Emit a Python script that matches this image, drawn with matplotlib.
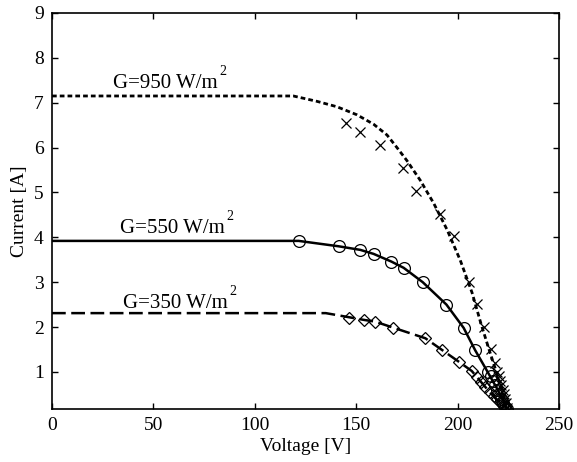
import matplotlib
matplotlib.use("Agg")
import matplotlib.pyplot as plt

plt.rcParams['font.family'] = ['Liberation Serif', 'DejaVu Serif']

# Model I-V curves at three irradiance levels
v_950 = [0, 119, 130.7, 140.5, 150.4, 158.6, 165.2, 170.1, 175, 181.6, 188.2,
         194.8, 201.3, 207.1, 211.5, 215.5, 219.4, 222.2, 224.5]
i_950 = [7.15, 7.15, 7.03, 6.91, 6.73, 6.52, 6.28, 6.00, 5.71, 5.27, 4.76,
         4.17, 3.49, 2.77, 2.08, 1.50, 0.96, 0.55, 0.18]

v_550 = [0, 121.6, 141.3, 152.0, 158.6, 167.3, 173.4, 182.8, 194.5, 203.0,
         208.7, 214.8, 219.8, 224.5]
i_550 = [3.92, 3.92, 3.80, 3.72, 3.63, 3.46, 3.32, 3.00, 2.50, 1.98,
         1.48, 1.00, 0.60, 0.18]

v_350 = [0, 135, 146.3, 153.7, 159.4, 168.0, 184.1, 192.3, 200.5, 207.0,
         211.5, 215.8, 220.0, 224.5]
i_350 = [2.31, 2.31, 2.22, 2.16, 2.12, 1.99, 1.75, 1.49, 1.23, 1.02,
         0.78, 0.55, 0.35, 0.18]

# Measured points
mv_950 = [145.1, 152.0, 161.9, 173.1, 179.6, 191.1, 198.0, 205.4, 209.6, 213.2,
          216.5, 218.5, 219.5, 220.3, 221.0, 221.6, 222.2, 222.8, 223.3, 223.8, 224.3]
mi_950 = [6.55, 6.35, 6.06, 5.54, 5.04, 4.53, 4.03, 3.01, 2.51, 1.99,
          1.50, 1.20, 1.00, 0.90, 0.80, 0.70, 0.60, 0.50, 0.40, 0.30, 0.20]

mv_550 = [121.6, 141.3, 152.0, 158.6, 167.3, 173.4, 182.8, 194.5, 203.0, 208.7,
          214.8, 216.5, 217.6, 218.6, 219.6, 220.6, 221.6, 222.6, 223.6, 224.5]
mi_550 = [3.92, 3.80, 3.72, 3.63, 3.46, 3.32, 3.00, 2.50, 1.98, 1.48,
          1.00, 0.90, 0.80, 0.70, 0.60, 0.50, 0.40, 0.30, 0.22, 0.18]

mv_350 = [146.3, 153.7, 159.4, 168.0, 184.1, 192.3, 200.5, 206.9, 209.4, 211.5,
          213.6, 215.8, 217.8, 219.5, 221.0, 222.3, 223.5, 224.5]
mi_350 = [2.20, 2.15, 2.12, 1.98, 1.75, 1.49, 1.23, 1.02, 0.89, 0.78,
          0.67, 0.55, 0.46, 0.40, 0.33, 0.27, 0.22, 0.18]

labels = ['G=950 W/m', 'G=550 W/m', 'G=350 W/m']
label_pos = [(30.0, 7.33), (33.5, 4.09), (35.0, 2.43)]

fig = plt.figure(figsize=(5.77, 4.62), dpi=100)
ax = fig.add_axes([0.0901, 0.1154, 0.8787, 0.8565])

ax.plot(v_950, i_950, color='black', lw=2.0, linestyle=(0, (1.7, 1.1)))
ax.plot(v_550, i_550, color='black', lw=1.8, linestyle='-')
ax.plot(v_350, i_350, color='black', lw=1.8, linestyle=(0, (5.5, 2.2)))

ax.plot(mv_950, mi_950, linestyle='none', marker='x', ms=6.5, mew=0.9, color='black')
ax.plot(mv_550, mi_550, linestyle='none', marker='o', ms=8.5, mew=0.9,
        markerfacecolor='none', markeredgecolor='black')
ax.plot(mv_350, mi_350, linestyle='none', marker='D', ms=6.3, mew=0.9,
        markerfacecolor='none', markeredgecolor='black')

# Curve labels with a raised small superscript
ax.set_xlim(0, 250)
ax.set_ylim(0.18, 9)
for text, (x, y) in zip(labels, label_pos):
    t = ax.text(x, y, text, fontsize=15, va='baseline', ha='left')
    fig.canvas.draw()
    bb = t.get_window_extent()
    inv = ax.transData.inverted()
    x_end, _ = inv.transform((bb.x1 + 2, bb.y0))
    ax.text(x_end, y + 0.29, '2', fontsize=10, va='baseline', ha='left')

ax.set_xticks([0, 50, 100, 150, 200, 250])
ax.set_yticks([1, 2, 3, 4, 5, 6, 7, 8, 9])
ax.tick_params(direction='in', top=True, right=True, length=4.5, width=1.0,
               labelsize=14, pad=6)
for s in ax.spines.values():
    s.set_linewidth(1.2)

ax.set_xlabel('Voltage [V]', fontsize=14, labelpad=3)
ax.set_ylabel('Current [A]', fontsize=14, labelpad=4)

fig.savefig('out.png', dpi=100)
